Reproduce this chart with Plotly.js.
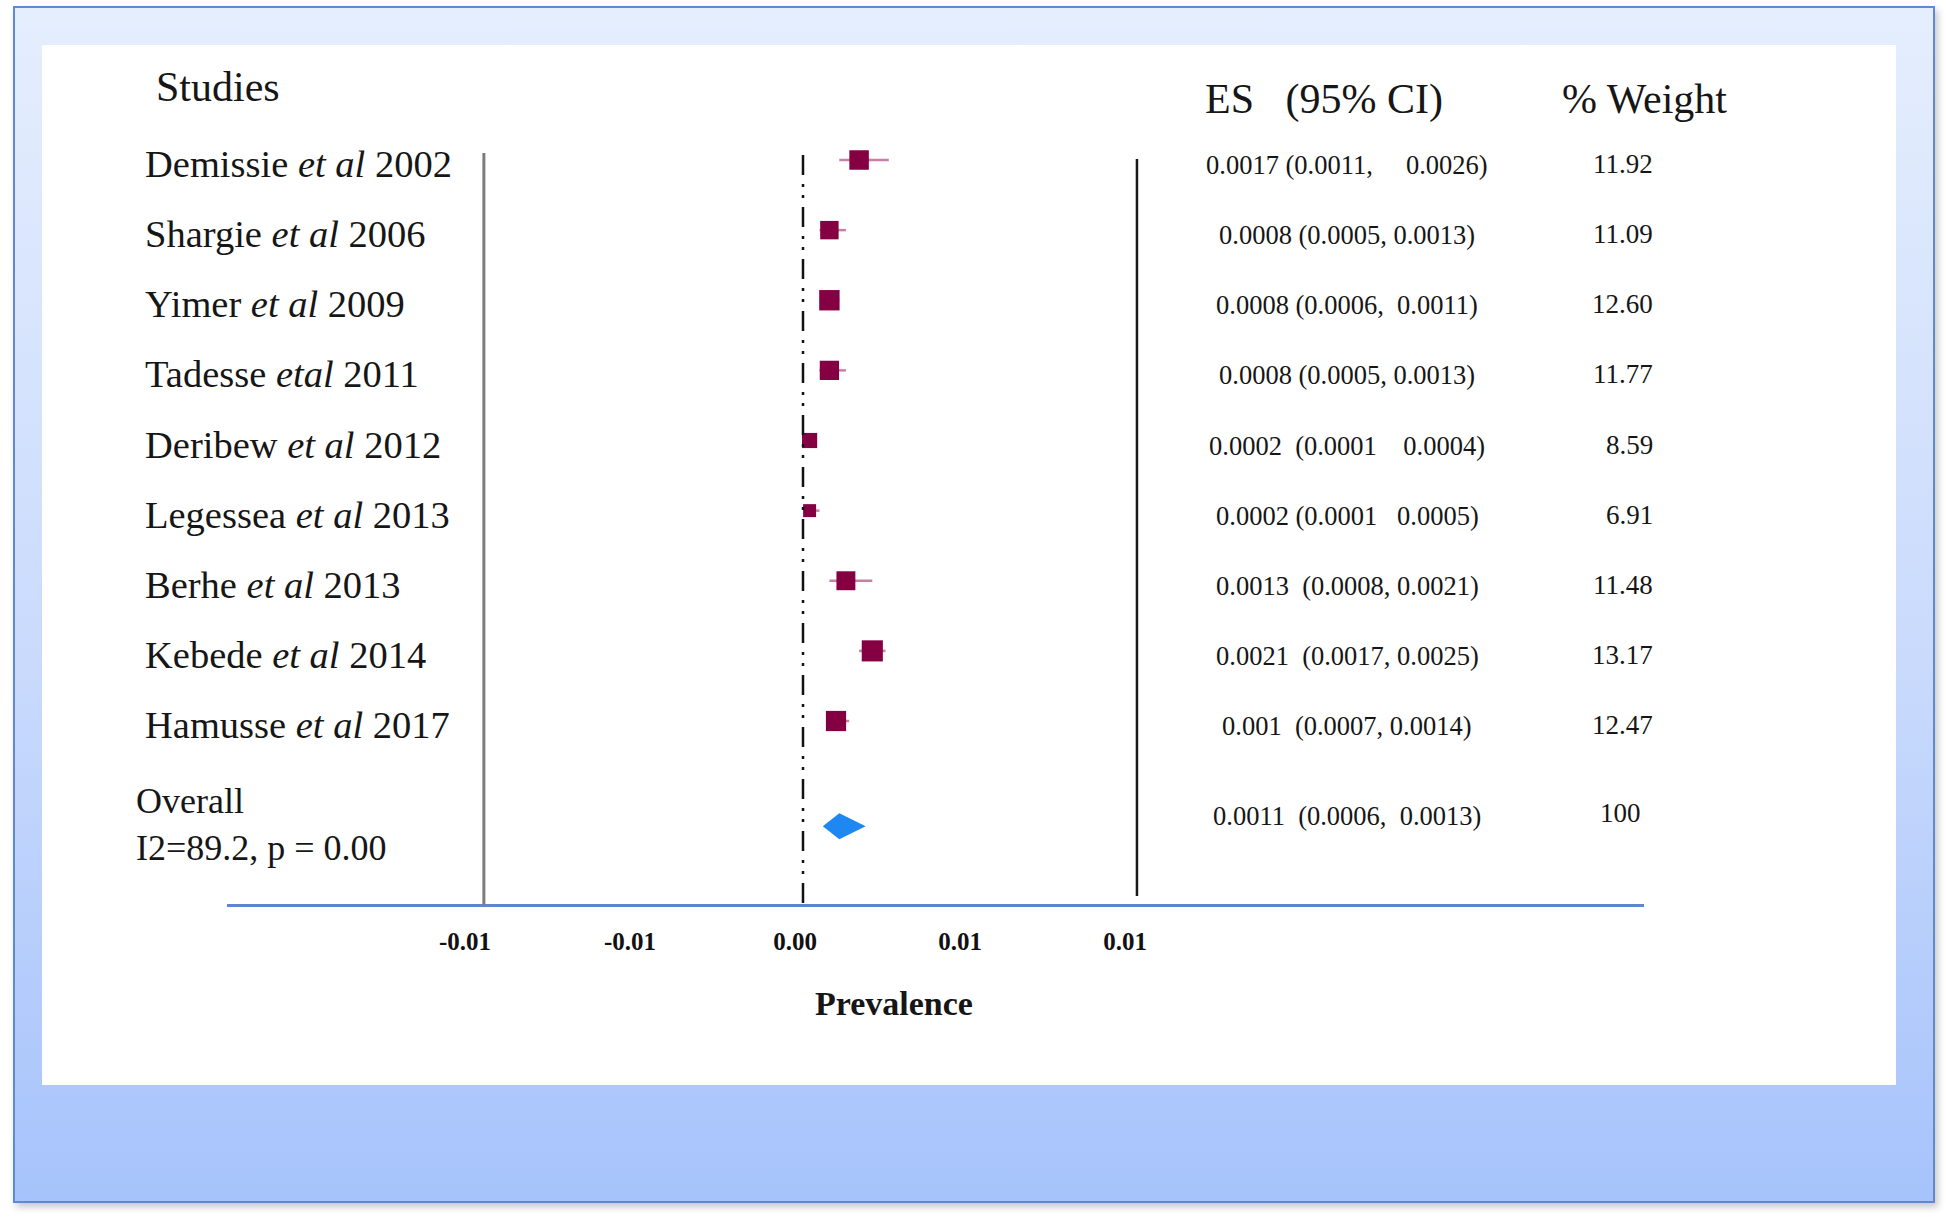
<!DOCTYPE html>
<html>
<head>
<meta charset="utf-8">
<script src="https://cdn.plot.ly/plotly-3.0.1.min.js"></script>
<style>
  body { margin: 0; background: #ffffff; }
  #frame {
    position: absolute; left: 13px; top: 6px; width: 1918px; height: 1193px;
    border: 2px solid #6189cf;
    background: linear-gradient(to bottom, #e5eefd 0%, #c9dafc 55%, #a6c3fb 100%);
    box-shadow: 3px 4px 7px rgba(0, 0, 0, 0.22);
  }
  #forest { position: absolute; left: 0; top: 0; width: 1946px; height: 1222px; }
</style>
</head>
<body>
<div id="frame"></div>
<div id="forest"></div>
<script>
// studies, top to bottom
const studies = [
    'Demissie <i>et al</i> 2002',
    'Shargie <i>et al</i> 2006',
    'Yimer <i>et al</i> 2009',
    'Tadesse <i>etal</i> 2011',
    'Deribew <i>et al</i> 2012',
    'Legessea <i>et al</i> 2013',
    'Berhe <i>et al</i> 2013',
    'Kebede <i>et al</i> 2014',
    'Hamusse <i>et al</i> 2017'
];
const es = [0.0017, 0.0008, 0.0008, 0.0008, 0.0002, 0.0002, 0.0013, 0.0021, 0.0010];
const ciLow = [0.0011, 0.0005, 0.0006, 0.0005, 0.0001, 0.0001, 0.0008, 0.0017, 0.0007];
const ciHigh = [0.0026, 0.0013, 0.0011, 0.0013, 0.0004, 0.0005, 0.0021, 0.0025, 0.0014];
const weights = ['11.92', '11.09', '12.60', '11.77', '8.59', '6.91', '11.48', '13.17', '12.47'];
const esLabels = [
    '0.0017 (0.0011,\u00a0\u00a0\u00a0\u00a0 0.0026)',
    '0.0008 (0.0005, 0.0013)',
    '0.0008 (0.0006,\u00a0 0.0011)',
    '0.0008 (0.0005, 0.0013)',
    '0.0002 \u00a0(0.0001\u00a0\u00a0\u00a0 0.0004)',
    '0.0002 (0.0001\u00a0\u00a0 0.0005)',
    '0.0013 \u00a0(0.0008, 0.0021)',
    '0.0021 \u00a0(0.0017, 0.0025)',
    '0.001 \u00a0(0.0007, 0.0014)'
];

// pooled estimate (diamond as drawn: left, centre, right)
const overallDiamond = [0.0006, 0.0011, 0.0019];
const overallLabel = 'Overall<br>I2=89.2, p = 0.00';
const overallEs = '0.0011 \u00a0(0.0006, \u00a00.0013)';
const overallWeight = '100';

const tickVals = [-0.01, -0.005, 0, 0.005, 0.01];
const tickText = ['-0.01', '-0.01', '0.00', '0.01', '0.01'];

const serif = 'Liberation Serif, Times New Roman, serif';
const W = 1946, H = 1222;
const rows = studies.map((_, i) => i);
const overallRow = 9.5;

// CI whiskers, one segment per study
const wx = [], wy = [];
rows.forEach(i => {
    wx.push(ciLow[i], ciHigh[i], null);
    wy.push(i, i, null);
});
const whiskers = {
    x: wx,
    y: wy,
    type: 'scatter',
    mode: 'lines',
    line: { color: 'rgba(170, 60, 115, 0.65)', width: 2.5 },
    hoverinfo: 'skip'
};

const boxes = {
    x: es,
    y: rows,
    type: 'scatter',
    mode: 'markers',
    marker: {
        symbol: 'square',
        color: '#850042',
        opacity: 1,
        size: weights.map(w => 4 + 1.3 * parseFloat(w)),
        line: { width: 0 }
    },
    hoverinfo: 'skip'
};

const h = 0.185;
const diamond = {
    x: [overallDiamond[0], overallDiamond[1], overallDiamond[2], overallDiamond[1], overallDiamond[0]],
    y: [overallRow, overallRow - h, overallRow, overallRow + h, overallRow],
    type: 'scatter',
    mode: 'lines',
    fill: 'toself',
    fillcolor: '#1d88f2',
    line: { width: 0, color: '#1d88f2' },
    hoverinfo: 'skip'
};

const annotations = [];
function txt(x, y, text, size, anchor, yref, yshift, bold) {
    annotations.push({
        xref: 'paper', yref: yref, x: x, y: y,
        text: bold ? '<b>' + text + '</b>' : text,
        showarrow: false, xanchor: anchor, yanchor: 'middle', yshift: yshift || 0,
        align: anchor === 'center' ? 'center' : anchor,
        font: { family: serif, size: size, color: '#161616' }
    });
}

// headers
txt(154 / W, 1 - 87 / H, 'Studies', 42, 'left', 'paper');
txt(1203 / W, 1 - 99 / H, 'ES\u00a0\u00a0\u00a0(95% CI)', 42, 'left', 'paper');
txt(1560 / W, 1 - 99 / H, '% Weight', 42, 'left', 'paper');

studies.forEach((s, i) => {
    txt(143 / W, i, s, 38.5, 'left', 'y', -4);
    txt(1347 / W, i, esLabels[i], 26.5, 'center', 'y', -5);
    txt(1655 / W, i, weights[i], 27, 'right', 'y', -4);
});
txt(134 / W, overallRow, overallLabel, 36, 'left', 'y', 2);
txt(1347 / W, overallRow, overallEs, 26.5, 'center', 'y', 10);
txt(1643 / W, overallRow, overallWeight, 27, 'right', 'y', 13);
txt(894 / W, 1 - 1003 / H, 'Prevalence', 34, 'center', 'paper', 0, true);

const shapes = [
    // white panel
    { type: 'rect', xref: 'paper', yref: 'paper', x0: 42 / W, x1: 1896 / W, y0: 1 - 1085 / H, y1: 1 - 45 / H,
      fillcolor: '#ffffff', line: { width: 0 }, layer: 'below' },
    // left border line
    { type: 'line', xref: 'x', yref: 'paper', x0: -0.00967, x1: -0.00967, y0: 1 - 905 / H, y1: 1 - 153 / H,
      line: { color: '#7d7d7d', width: 3 } },
    // right border line
    { type: 'line', xref: 'x', yref: 'paper', x0: 0.01012, x1: 0.01012, y0: 1 - 896 / H, y1: 1 - 159 / H,
      line: { color: '#1a1a1a', width: 2.5 } },
    // null line
    { type: 'line', xref: 'x', yref: 'paper', x0: 0, x1: 0, y0: 1 - 903 / H, y1: 1 - 155 / H,
      line: { color: '#111111', width: 2.5, dash: '20px,9px,3px,8px,3px,9px' } }
];

const layout = {
    width: W,
    height: H,
    margin: { l: 0, r: 0, t: 0, b: 0 },
    paper_bgcolor: 'rgba(0,0,0,0)',
    plot_bgcolor: 'rgba(0,0,0,0)',
    showlegend: false,
    xaxis: {
        domain: [227 / W, 1644 / W],
        range: [(227 - 803) / 33000, (1644 - 803) / 33000],
        anchor: 'free',
        position: 1 - 905 / H,
        showgrid: false,
        zeroline: false,
        showline: true,
        linecolor: '#5b88cd',
        linewidth: 3,
        ticks: '',
        tickmode: 'array',
        tickvals: tickVals,
        ticktext: tickText,
        ticklabelstandoff: 13,
        ticklabelshift: -8,
        tickfont: { family: serif, size: 25, color: '#111111', weight: 'bold' },
        fixedrange: true
    },
    yaxis: {
        range: [(H - 160) / 70.125, -160 / 70.125],
        visible: false,
        showgrid: false,
        zeroline: false,
        fixedrange: true
    },
    shapes: shapes,
    annotations: annotations
};

Plotly.newPlot('forest', [whiskers, boxes, diamond], layout, { displayModeBar: false, staticPlot: true });
</script>
</body>
</html>
